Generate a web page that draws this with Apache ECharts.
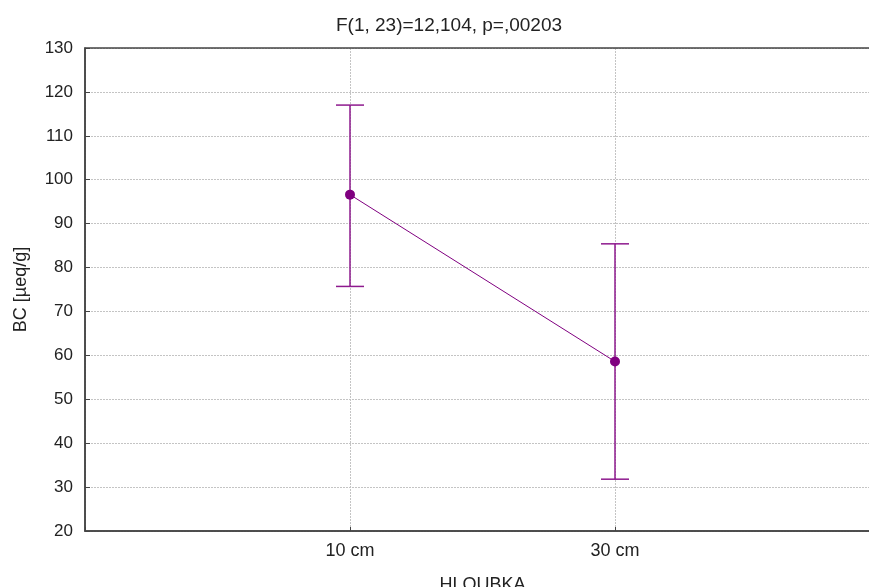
<!DOCTYPE html>
<html>
<head>
<meta charset="utf-8">
<script src="https://cdn.jsdelivr.net/npm/echarts@6/dist/echarts.min.js"></script>
<style>html,body{margin:0;padding:0;background:#fff;}#chart{width:869px;height:587px;}</style>
</head>
<body>
<div id="chart"></div>
<script>
const categories = ['10 cm', '30 cm'];
const means = [96.6, 58.6];
const upper = [117.0, 85.4];
const lower = [75.7, 31.8];
const yTicks = [20, 30, 40, 50, 60, 70, 80, 90, 100, 110, 120, 130];
const titleText = 'F(1, 23)=12,104, p=,00203';
const xName = 'HLOUBKA';
const yName = 'BC [µeq/g]';

const font = 'Liberation Sans, Arial, sans-serif';
const purple = '#800080';
const chart = echarts.init(document.getElementById('chart'));
const lineData = means.map((m, i) => [i + 1, m]);
const errData = means.map((m, i) => [i + 1, lower[i], upper[i]]);

chart.setOption({
  animation: false,
  backgroundColor: '#fff',
  title: {
    text: titleText, left: 331, top: 11,
    textStyle: { fontFamily: font, fontSize: 19, fontWeight: 'normal', color: '#222' }
  },
  grid: { left: 85, top: 48, width: 795, height: 483, outerBoundsMode: 'none', containLabel: false, z: 2,
    show: true, borderColor: '#444', borderWidth: 1.5, backgroundColor: 'transparent' },
  xAxis: {
    type: 'value', min: 0, max: 3, interval: 1,
    name: xName, nameLocation: 'middle', nameGap: 45,
    nameTextStyle: { fontFamily: font, fontSize: 18, color: '#222' },
    axisLine: { show: true, lineStyle: { color: '#444', width: 1.5 } },
    axisTick: { show: true, inside: true, length: 4, lineStyle: { color: '#444' } },
    axisLabel: { fontFamily: font, fontSize: 18, color: '#222', margin: 11,
      formatter: v => (v >= 1 && v <= categories.length) ? categories[v - 1] : '' },
    splitLine: { show: true, lineStyle: { color: '#c4c4c4', type: [2, 1], width: 1 } }
  },
  yAxis: {
    type: 'value', min: yTicks[0], max: yTicks[yTicks.length - 1], interval: 10,
    name: yName, nameLocation: 'middle', nameGap: 55, nameRotate: 90,
    nameTextStyle: { fontFamily: font, fontSize: 18, color: '#222' },
    axisLine: { show: true, lineStyle: { color: '#444', width: 1.5 } },
    axisTick: { show: true, inside: true, length: 5, lineStyle: { color: '#444' } },
    axisLabel: { fontFamily: font, fontSize: 17, color: '#222', margin: 12 },
    splitLine: { show: true, lineStyle: { color: '#c4c4c4', type: [2, 1], width: 1 } }
  },
  series: [
    {
      type: 'custom',
      data: errData,
      z: 3,
      renderItem: (params, api) => {
        const x = api.value(0);
        const lo = api.coord([x, api.value(1)]);
        const hi = api.coord([x, api.value(2)]);
        const hw = 14;
        const style = { stroke: '#8e1a8e', lineWidth: 1.5, fill: null };
        return {
          type: 'group',
          children: [
            { type: 'line', shape: { x1: lo[0], y1: lo[1], x2: hi[0], y2: hi[1] }, style },
            { type: 'line', shape: { x1: hi[0] - hw, y1: hi[1], x2: hi[0] + hw, y2: hi[1] }, style },
            { type: 'line', shape: { x1: lo[0] - hw, y1: lo[1], x2: lo[0] + hw, y2: lo[1] }, style }
          ]
        };
      }
    },
    {
      type: 'line',
      data: lineData,
      z: 4,
      symbol: 'circle', symbolSize: 10,
      lineStyle: { color: purple, width: 1 },
      itemStyle: { color: purple }
    }
  ]
});
</script>
</body>
</html>
